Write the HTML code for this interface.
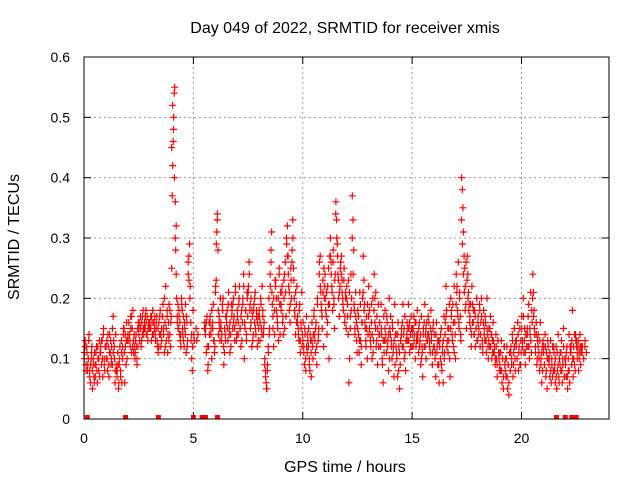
<!DOCTYPE html>
<html><head><meta charset="utf-8"><style>
body{margin:0;background:#fff;}
svg{display:block;font-family:"Liberation Sans",sans-serif;}
</style></head><body>
<svg id="chart" width="640" height="480" xmlns="http://www.w3.org/2000/svg">
<text x="345" y="33" font-size="16" text-anchor="middle">Day 049 of 2022, SRMTID for receiver xmis</text>
<text x="345" y="472" font-size="16" text-anchor="middle">GPS time / hours</text>
<text transform="translate(19,237) rotate(-90)" font-size="16" text-anchor="middle">SRMTID / TECUs</text>
<g id="grid"></g>
<g id="ticks"></g>
<g id="pts"></g>
<rect x="84" y="57" width="525" height="362" fill="none" stroke="#000" stroke-width="1"/>
</svg>
<script>
const xTicks=[0,5,10,15,20];
const yTicks=[0,0.1,0.2,0.3,0.4,0.5,0.6];
const yTickLabels=["0","0.1","0.2","0.3","0.4","0.5","0.6"];
const binHours=[];
for(let i=0;i<92;i++)binHours.push(i*0.25);
const binValues=[
"11 13 9 12 8 10 14","8 6 10 12 5 9 7 11","7 9 12 6 10 8 13 11","12 9 13 7 15 10 8 12",
"10 13 8 12 7 14 11 9","12 9 17 13 10 6 14 8","8 11 5 9 12 7 13 6","10 14 15 6 12 9 16 13",
"13 16 14 12 17 11 15 18","11 14 10 13 12 9 15 16","15 13 17 12 16 14 18 14","16 15 18 14 17 13 16 15",
"15 17 13 16 18 14 16 17","13 15 17 12 11 16 14 18","12 15 17 19 14 11 16 22","13 18 11 16 19 14 12 17",
"25 37 42 46 50 54 55 30 28 32 20","16 19 15 17 14 13 12 20 18","14 17 12 15 19 11 16 13","24 27 29 22 13 10 8 18",
"13 15 14","","16 15 11 17 8 12 14","17 15 10 16 19 13 12",
"22 23 31 34 28 14 17 15 20","15 13 19 20 9 11 14 17","16 18 13 21 15 11 14 19","18 15 20 17 13 22 16 14",
"17 14 19 22 15 12 18 16","20 24 10 15 18 13 21 17","22 26 18 15 20 12 17 14","19 16 21 14 18 12 17 15",
"17 13 20 15 22 18 14 16","10 8 6 5 9 12 20 15","22 26 31 19 15 12 18 23","23 20 17 15 13 25 19 21",
"18 21 16 14 20 24 26 17","29 32 27 22 18 16 25 20","28 33 25 20 17 14 19 22","17 15 13 19 11 16 21 14",
"16 12 9 14 8 17 11 13","15 10 8 13 7 16 12 14","18 14 11 16 9 20 13 15","26 27 21 18 15 23 12 20",
"24 20 17 14 22 19 10 27","30 26 22 18 28 20 15 24","36 33 29 24 20 17 22 26","27 23 20 18 25 16 21 15",
"22 19 14 6 10 17 24 20","37 33 28 18 14 21 16 11","18 14 11 21 13 9 16 20","27 23 19 15 12 17 10 14",
"22 18 14 12 16 10 20 13","24 20 15 12 17 9 19 14","16 12 19 14 9 6 17 13","18 14 11 16 13 8 20 15",
"17 13 10 15 12 7 19 14","14 11 7 16 12 5 9 13","15 12 19 14 10 17 8 13","16 13 19 15 11 14 17 12",
"15 12 17 14 10 16 13 18","14 11 16 13 9 17 12 7","15 12 19 14 10 16 13 17","16 13 11 18 14 9 15 12",
"14 11 7 16 12 9 13 6","13 10 15 8 12 6 17 11","16 22 18 13 11 15 19 7","20 17 14 19 12 22 16 10",
"24 21 18 26 15 20 17 13","40 38 35 31 27 25 22 19 15","27 24 21 19 17 15 12 22","19 16 14 18 12 15 20 13",
"17 14 19 12 16 20 13 11","18 15 13 16 11 20 14 10","15 12 17 14 10 13 16 11","12 9 14 10 7 13 11 8",
"11 8 13 6 10 5 12 9","10 7 12 5 9 4 11 8","12 9 14 7 11 15 10 13","13 10 16 8 12 15 9 11",
"17 13 20 11 15 9 14 12","15 12 19 10 14 21 11 16","24 21 18 14 11 16 9 13","14 11 8 16 10 6 12 13",
"12 9 14 7 11 5 13 10","10 7 13 6 9 12 8 11","9 6 12 5 8 14 7 10","11 8 13 6 9 15 7 10",
"10 7 12 5 8 14 6 11","12 9 18 7 10 14 8 13","13 10 12 8 11 14 9 12","12 10 13 11"
];
const binValues2=[
"10 12 8 11 9 13","7 9 11 8 10 6","9 11 8 12 10 7","11 13 10 14 9 12",
"12 10 14 9 11 13","10 15 11 12 8 9","7 9 6 10 8 11","12 15 11 14 13 10",
"14 16 13 15 17 12","13 12 11 14 10 12","14 16 15 13 17 15","15 17 16 14 15 16",
"16 15 17 14 16 15","14 16 13 15 12 17","14 13 17 15 20 12","15 17 14 13 18 16",
"45 52 48 40 36 24","17 15 18 16 14 19","15 13 16 14 17 12","26 23 20 16 14 12",
"14 13","","15 14 16 12 9 16","16 14 18 15 13 11",
"21 29 33 18 16 13","16 14 18 12 15 13","17 15 19 14 16 12","17 19 16 15 21 13",
"18 16 20 15 17 13","19 22 16 18 14 20","21 24 19 16 18 13","18 20 15 17 16 13",
"18 16 19 14 17 15","9 7 5 8 11 14","24 28 21 17 20 14","22 18 16 20 24 14",
"19 22 17 23 15 21","30 27 24 21 19 23","26 30 23 18 21 16","16 14 18 13 15 12",
"13 11 15 10 12 14","12 9 14 11 13 10","17 13 15 12 19 14","24 22 19 17 21 25",
"22 18 21 16 25 19","27 24 21 26 19 23","34 30 27 23 21 25","24 21 19 23 17 20",
"20 17 23 21 15 18","30 24 19 15 17 13","15 17 13 19 12 16","21 18 16 13 15 19",
"17 15 13 19 14 11","18 16 21 13 15 12","14 12 15 10 13 11","15 13 17 12 14 10",
"14 12 16 11 13 9","12 10 14 8 11 13","14 16 12 15 11 13","14 15 13 16 12 15",
"14 15 13 16 12 14","13 15 12 14 10 11","14 16 12 15 13 14","14 12 15 13 11 16",
"12 10 14 11 13 9","12 14 9 11 13 10","14 17 12 15 13 10","15 18 13 16 11 14",
"19 22 17 16 21 14","33 29 24 21 18 26","23 20 18 16 19 14","16 18 14 17 15 13",
"16 15 18 14 17 12","16 14 17 13 15 12","13 15 12 14 11 13","11 10 12 9 13 10",
"9 11 8 10 7 12","8 10 7 9 6 11","11 10 13 9 12 8","12 10 14 11 9 13",
"15 12 17 13 11 14","14 17 12 15 13 18","20 17 15 12 14 10","12 10 13 9 11 8",
"11 9 12 8 10 12","9 11 8 10 7 12","8 10 7 11 9 6","9 11 8 10 12 7",
"9 11 7 10 8 12","11 13 10 12 9 14","12 11 13 10 12 11","11 12"
];
const zeroHours=[0.15,1.9,3.4,5.0,5.4,5.55,6.1,21.6,22.0,22.3,22.5];

const X0=84,X1=609,Y0=419,Y1=57,XMAX=24,YMAX=0.6;
const xs=h=>X0+h/XMAX*(X1-X0);
const ys=v=>Y0-v/YMAX*(Y0-Y1);
const NS="http://www.w3.org/2000/svg";
const grid=document.getElementById('grid'),ticks=document.getElementById('ticks'),pts=document.getElementById('pts');
function mk(tag,attrs,parent){const e=document.createElementNS(NS,tag);for(const k in attrs)e.setAttribute(k,attrs[k]);parent.appendChild(e);return e;}
yTicks.forEach((v,i)=>{
  const y=ys(v);
  if(v>0&&v<YMAX){const g=mk('line',{x1:X0,x2:X1,y1:y,y2:y,stroke:'#999','stroke-dasharray':'2,3'},grid);
  
  }
  mk('line',{x1:X0,x2:X0+7,y1:y,y2:y,stroke:'#000'},ticks);
  mk('line',{x1:X1-7,x2:X1,y1:y,y2:y,stroke:'#000'},ticks);
  const t=mk('text',{x:X0-14,y:y+5,'font-size':14,'text-anchor':'end'},ticks);
  t.textContent=yTickLabels[i];
  
  
});
xTicks.forEach(h=>{
  const x=xs(h);
  if(h>0){const g=mk('line',{x1:x,x2:x,y1:Y1,y2:Y0,stroke:'#999','stroke-dasharray':'2,3'},grid);
  
  }
  mk('line',{x1:x,x2:x,y1:Y0,y2:Y0-7,stroke:'#000'},ticks);
  mk('line',{x1:x,x2:x,y1:Y1,y2:Y1+7,stroke:'#000'},ticks);
  const t=mk('text',{x:x,y:Y0+24,'font-size':14,'text-anchor':'middle'},ticks);
  t.textContent=String(h);
  
  
});
let d='';
function addBins(arr,offset){
  arr.forEach((s,i)=>{
    if(!s)return;
    const vals=s.split(' ').map(Number);
    vals.forEach((v,j)=>{
      const x=xs(binHours[i]+((j+offset)/vals.length)*0.25),y=ys(v/100);
      d+=`M${(x-3.5).toFixed(1)} ${y.toFixed(1)}h7M${x.toFixed(1)} ${(y-3.5).toFixed(1)}v7`;
    });
  });
}
addBins(binValues,0.5);
addBins(binValues2,0.2);
const p=mk('path',{d:d,stroke:'#f00','stroke-width':1.2,fill:'none'},pts);


zeroHours.forEach(h=>{
  const r=mk('rect',{x:xs(h)-2.5,y:ys(0)-4,width:5,height:4,fill:'#f00'},pts);
  
  
});
</script>
</body></html>
